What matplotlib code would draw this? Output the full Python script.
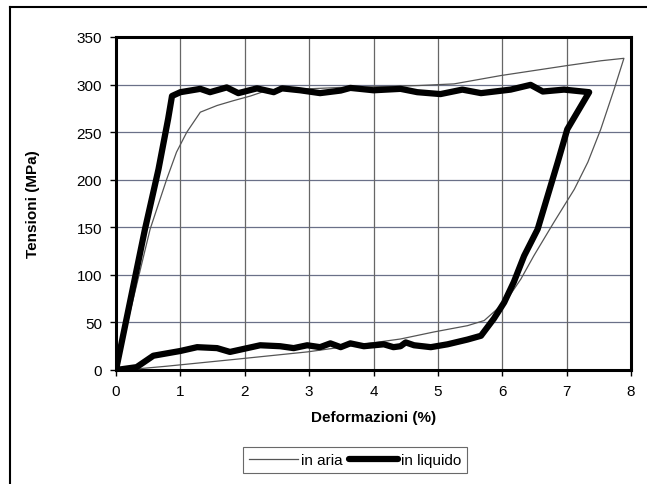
import matplotlib
matplotlib.use("Agg")
import matplotlib.pyplot as plt
from matplotlib.lines import Line2D

plt.rcParams['font.family'] = ['Liberation Sans', 'DejaVu Sans']

# "in aria" (thin) curve
aria_x = [0.0, 0.53, 0.79, 0.94, 1.10, 1.31, 1.57, 1.82, 2.09, 2.29, 2.8, 3.5, 4.2,
          4.7, 5.25, 5.98, 6.49, 7.01, 7.53, 7.89,
          7.74, 7.53, 7.33, 7.12, 6.80, 6.49, 6.29, 6.08, 5.98, 5.72, 5.46,
          4.94, 4.42, 2.97, 1.82, 0.79, 0.3, 0.0]
aria_y = [0, 148, 201, 229, 250, 271, 278, 283, 288, 292.6, 295, 297, 298,
          299, 300.7, 309.5, 314.7, 320, 325, 327.6,
          295.5, 253, 218.5, 190, 155, 120, 95.7, 74.7, 67.6, 52, 46.6,
          40, 32.6, 19, 11, 4, 1, 0]

# "in liquido" (thick) curve
liq_x = [0.0, 0.45, 0.66, 0.81, 0.87, 1.0, 1.31, 1.46, 1.72, 1.90, 2.19, 2.45, 2.58,
         2.86, 3.17, 3.49, 3.64, 4.0, 4.42, 4.68, 5.04, 5.38, 5.67, 6.13, 6.44,
         6.63, 6.96, 7.35,
         7.01, 6.86, 6.55, 6.34, 6.18, 6.03, 5.87, 5.67, 5.46, 5.15, 4.89, 4.63,
         4.50, 4.42, 4.31, 4.16, 3.85, 3.64, 3.49, 3.33, 3.17, 2.97, 2.76, 2.55,
         2.24, 1.77, 1.57, 1.26, 1.0, 0.58, 0.32, 0.0]
liq_y = [0, 148, 211, 264, 288, 292, 295.5, 292, 297, 291, 296, 292, 296,
         294, 291, 293.7, 296.5, 294, 295.5, 292, 290, 294.7, 291, 294.7, 299.7,
         292.7, 294.7, 292,
         253, 218, 148, 120, 92.5, 71, 54, 36, 32, 27, 24, 26,
         29, 25, 24, 27, 25, 28, 24, 28, 24, 26, 23, 25,
         26, 19, 23, 24, 20, 15, 3, 0]

xticks = [0, 1, 2, 3, 4, 5, 6, 7, 8]
yticks = [0, 50, 100, 150, 200, 250, 300, 350]

W, H = 647, 485
fig = plt.figure(figsize=(W / 100, H / 100), dpi=100)
ax = fig.add_axes([116 / W, 1 - 371 / H, (631 - 116) / W, (371 - 38) / H])

ax.plot(aria_x, aria_y, color='#555555', lw=0.9, label='in aria', zorder=3)
ax.plot(liq_x, liq_y, color='black', lw=4.5, label='in liquido', zorder=4,
        solid_joinstyle='round', solid_capstyle='round')

ax.set_xlim(0, 8)
ax.set_ylim(0, 350)
ax.set_xticks(xticks)
ax.set_yticks(yticks)
ax.tick_params(labelsize=11, length=4, width=1, pad=6)

for y in yticks[1:-1]:
    ax.axhline(y, color='#6a7088', lw=0.9, zorder=1)
for x in xticks[1:-1]:
    ax.axvline(x, color='#666666', lw=0.9, zorder=1)

for s in ax.spines.values():
    s.set_linewidth(2.2)
    s.set_color('black')

ax.set_xlabel('Deformazioni (%)', fontsize=11, fontweight='bold', labelpad=9)
ax.set_ylabel('Tensioni (MPa)', fontsize=11, fontweight='bold', labelpad=26)

leg = fig.legend(loc='center', bbox_to_anchor=(355 / W, 1 - 461 / H), ncol=2,
                 fontsize=11, frameon=True, fancybox=False, handlelength=3.2,
                 handletextpad=0.2, columnspacing=0.4, borderpad=0.4)
leg.get_frame().set_edgecolor('#444444')
leg.get_frame().set_linewidth(0.8)

# outer frame (left and top)
fig.add_artist(Line2D([10 / W, 10 / W], [0, 1 - 8 / H], color='black', lw=1.5,
                      transform=fig.transFigure))
fig.add_artist(Line2D([10 / W, 1], [1 - 8 / H, 1 - 8 / H], color='black', lw=1.5,
                      transform=fig.transFigure))

fig.savefig('out.png', dpi=100)
